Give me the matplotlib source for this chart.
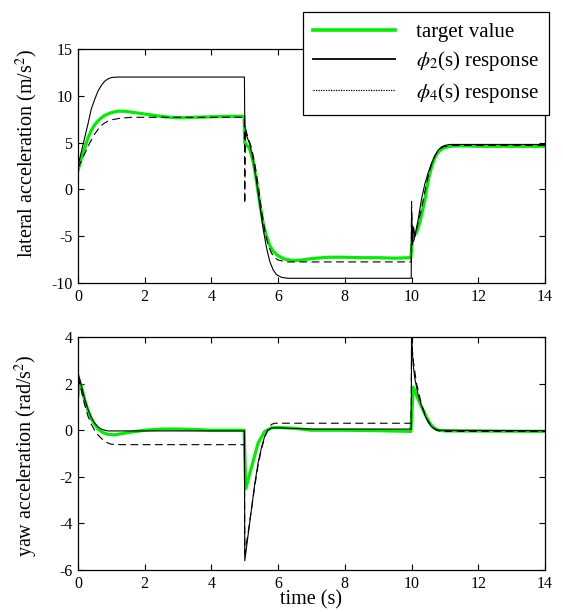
import matplotlib
matplotlib.use("Agg")
import matplotlib.pyplot as plt
from matplotlib.lines import Line2D

plt.rcParams['font.family'] = ['Liberation Serif', 'DejaVu Serif']
plt.rcParams['mathtext.fontset'] = 'stix'
plt.rcParams['axes.unicode_minus'] = False

GREEN = '#00ee00'

# ---- lateral acceleration (top panel) ----
lat_target_t = [0, 0.1, 0.2, 0.3, 0.4, 0.5, 0.65, 0.8, 1.0, 1.2, 1.4, 1.7, 2.0, 2.3,
                2.6, 3.0, 3.5, 4.0, 4.5, 4.98, 5.0, 5.05, 5.15, 5.25, 5.35, 5.45,
                5.55, 5.65, 5.75, 5.85, 6.0, 6.2, 6.45, 6.7, 7.0, 7.5, 8.0, 8.5,
                9.0, 9.5, 9.98, 10.03, 10.15, 10.25, 10.4, 10.5, 10.6, 10.7, 10.8,
                10.95, 11.15, 11.5, 12.0, 13.0, 14.0]
lat_target = [2.0, 3.3, 4.4, 5.5, 6.3, 6.9, 7.5, 7.9, 8.2, 8.35, 8.35, 8.2, 8.05, 7.9,
              7.75, 7.65, 7.7, 7.75, 7.8, 7.8, 5.0, 4.8, 4.3, 3.0, 0.9, -1.5,
              -3.6, -5.0, -6.0, -6.6, -7.1, -7.45, -7.6, -7.55, -7.4, -7.25, -7.25, -7.3,
              -7.3, -7.35, -7.3, -5.1, -4.6, -3.5, -1.1, 1.0, 2.4, 3.4, 4.0,
              4.4, 4.6, 4.65, 4.6, 4.6, 4.6]

lat_phi2_t = [0, 0.1, 0.2, 0.3, 0.4, 0.5, 0.6, 0.7, 0.8, 0.9, 1.0, 1.2, 4.99, 5.0,
              5.05, 5.15, 5.25, 5.35, 5.45, 5.55, 5.65, 5.75, 5.85, 5.95, 6.1, 6.3,
              9.99, 10.0, 10.03, 10.06, 10.1, 10.2, 10.3, 10.4, 10.5, 10.6, 10.7,
              10.8, 10.9, 11.0, 11.15, 14.0]
lat_phi2 = [2.5, 4.0, 5.5, 7.0, 8.6, 9.6, 10.5, 11.1, 11.55, 11.8, 11.95, 12.0, 12.0, 6.9,
            5.8, 4.8, 3.2, 0.9, -1.6, -4.2, -6.2, -7.7, -8.6, -9.1, -9.4, -9.5,
            -9.5, -2.2, -5.5, -4.0, -5.0, -3.2, -1.0, 0.6, 1.8, 2.8, 3.6,
            4.2, 4.55, 4.7, 4.8, 4.8]

lat_phi4_t = [0, 0.1, 0.2, 0.36, 0.5, 0.66, 0.8, 0.96, 1.26, 1.6, 4.99, 5.0, 5.02,
              5.1, 5.2, 5.3, 5.4, 5.5, 5.6, 5.7, 5.8, 5.9, 6.0, 6.3, 9.99, 10.0,
              10.03, 10.1, 10.2, 10.3, 10.4, 10.5, 10.6, 10.7, 10.8, 10.95, 11.2, 14.0]
lat_phi4 = [2.3, 3.0, 3.8, 5.0, 5.9, 6.7, 7.1, 7.4, 7.6, 7.7, 7.7, -1.5, 6.5,
            5.5, 4.5, 2.8, 0.5, -2.2, -4.4, -5.9, -6.8, -7.3, -7.55, -7.75, -7.75, -1.3,
            -6.0, -5.0, -3.5, -2.0, -0.2, 1.4, 2.7, 3.6, 4.2, 4.55, 4.7, 4.7]

# ---- yaw acceleration (bottom panel) ----
yaw_target_t = [0, 0.02, 0.1, 0.2, 0.3, 0.4, 0.5, 0.6, 0.75, 0.9, 1.1, 1.3, 1.6, 2.0,
                2.5, 3.0, 3.5, 4.0, 4.98, 5.03, 5.2, 5.4, 5.6, 5.8, 6.0, 6.5, 7.0,
                8.0, 9.0, 9.98, 10.05, 10.15, 10.25, 10.35, 10.45, 10.55, 10.65,
                10.8, 11.0, 14.0]
yaw_target = [1.5, 2.2, 1.9, 1.3, 0.85, 0.5, 0.25, 0.05, -0.1, -0.18, -0.2, -0.15, -0.08, 0.0,
              0.05, 0.05, 0.03, 0.0, 0.0, -2.5, -1.6, -0.55, -0.05, 0.1, 0.12, 0.08, 0.0,
              0.0, -0.02, -0.05, 1.85, 1.5, 1.15, 0.85, 0.55, 0.3, 0.12,
              0.0, -0.03, -0.05]

yaw_phi2_t = [0, 0.1, 0.2, 0.3, 0.4, 0.5, 0.6, 0.7, 0.8, 0.9, 4.99, 5.0, 5.1, 5.2,
              5.3, 5.4, 5.5, 5.6, 5.7, 5.8, 6.0, 7.0, 9.99, 10.0, 10.05, 10.1, 10.2,
              10.3, 10.4, 10.5, 10.6, 10.7, 10.8, 14.0]
yaw_phi2 = [2.5, 1.9, 1.35, 0.9, 0.55, 0.3, 0.15, 0.05, 0.0, -0.03, -0.03, -5.6, -4.5, -3.4,
            -2.3, -1.4, -0.75, -0.25, 0.0, 0.1, 0.1, 0.05, 0.05, 4.0, 2.8, 2.2, 1.5,
            1.05, 0.65, 0.35, 0.15, 0.05, 0.0, -0.02]

yaw_phi4_t = [0, 0.1, 0.2, 0.3, 0.4, 0.5, 0.6, 0.7, 0.8, 0.9, 1.0, 1.3, 4.99, 5.0,
              5.1, 5.2, 5.3, 5.4, 5.5, 5.6, 5.7, 5.8, 5.9, 9.99, 10.0, 10.05, 10.15,
              10.3, 10.45, 10.6, 10.75, 10.9, 14.0]
yaw_phi4 = [2.3, 1.7, 1.1, 0.6, 0.25, 0.0, -0.2, -0.35, -0.47, -0.55, -0.6, -0.62, -0.62, -5.3,
            -4.4, -3.4, -2.4, -1.5, -0.8, -0.3, 0.05, 0.25, 0.3, 0.3, 3.9, 3.0, 2.0,
            1.1, 0.5, 0.15, 0.0, -0.05, -0.05]

x_ticks = [0, 2, 4, 6, 8, 10, 12, 14]
lat_ticks = [-10, -5, 0, 5, 10, 15]
yaw_ticks = [-6, -4, -2, 0, 2, 4]
legend_labels = ['target value', r'$\phi_2$(s) response', r'$\phi_4$(s) response']


def draw_panel(ax, series, ylim, yticks, ylabel, label_y):
    (tt, yt), (t2, y2), (t4, y4) = series
    ax.plot(tt, yt, color=GREEN, lw=2.3, zorder=2)
    ax.plot(t2, y2, color='black', lw=0.8, zorder=3)
    ax.plot(t4, y4, color='black', lw=0.8, dashes=(7, 4), zorder=3)
    ax.set_xlim(0, 14)
    ax.set_ylim(*ylim)
    ax.set_xticks(x_ticks)
    ax.set_yticks(yticks)
    ax.tick_params(direction='in', top=True, right=True, length=4, width=0.8,
                   labelsize=11.5, pad=4)
    for s in ax.spines.values():
        s.set_linewidth(0.9)
    ax.set_ylabel(ylabel, fontsize=14.5)
    ax.yaxis.set_label_coords(-0.082, label_y)


fig = plt.figure(figsize=(5.63, 6.12), dpi=100)
ax1 = fig.add_axes([0.1385, 0.5376, 0.8295, 0.3824])
ax2 = fig.add_axes([0.1385, 0.0686, 0.8295, 0.3807])

draw_panel(ax1, [(lat_target_t, lat_target), (lat_phi2_t, lat_phi2), (lat_phi4_t, lat_phi4)],
           (-10, 15), lat_ticks, r'lateral acceleration (m/s$^2$)', 0.555)
draw_panel(ax2, [(yaw_target_t, yaw_target), (yaw_phi2_t, yaw_phi2), (yaw_phi4_t, yaw_phi4)],
           (-6, 4), yaw_ticks, r'yaw acceleration (rad/s$^2$)', 0.49)
ax2.set_xlabel('time (s)', fontsize=14.5, labelpad=-1)

handles = [Line2D([], [], color=GREEN, lw=2.6),
           Line2D([], [], color='black', lw=1.3),
           Line2D([], [], color='black', lw=0.9, linestyle=(0, (1, 1)))]
leg = fig.legend(handles, legend_labels, loc='upper left',
                 bbox_to_anchor=(303 / 563, 1 - 12 / 612), fontsize=15,
                 frameon=True, fancybox=False, framealpha=1, edgecolor='black',
                 handlelength=3.9, handletextpad=1.0, labelspacing=0.35,
                 borderpad=0.5, borderaxespad=0)
leg.get_frame().set_linewidth(0.9)

fig.savefig('out.png', dpi=100)
